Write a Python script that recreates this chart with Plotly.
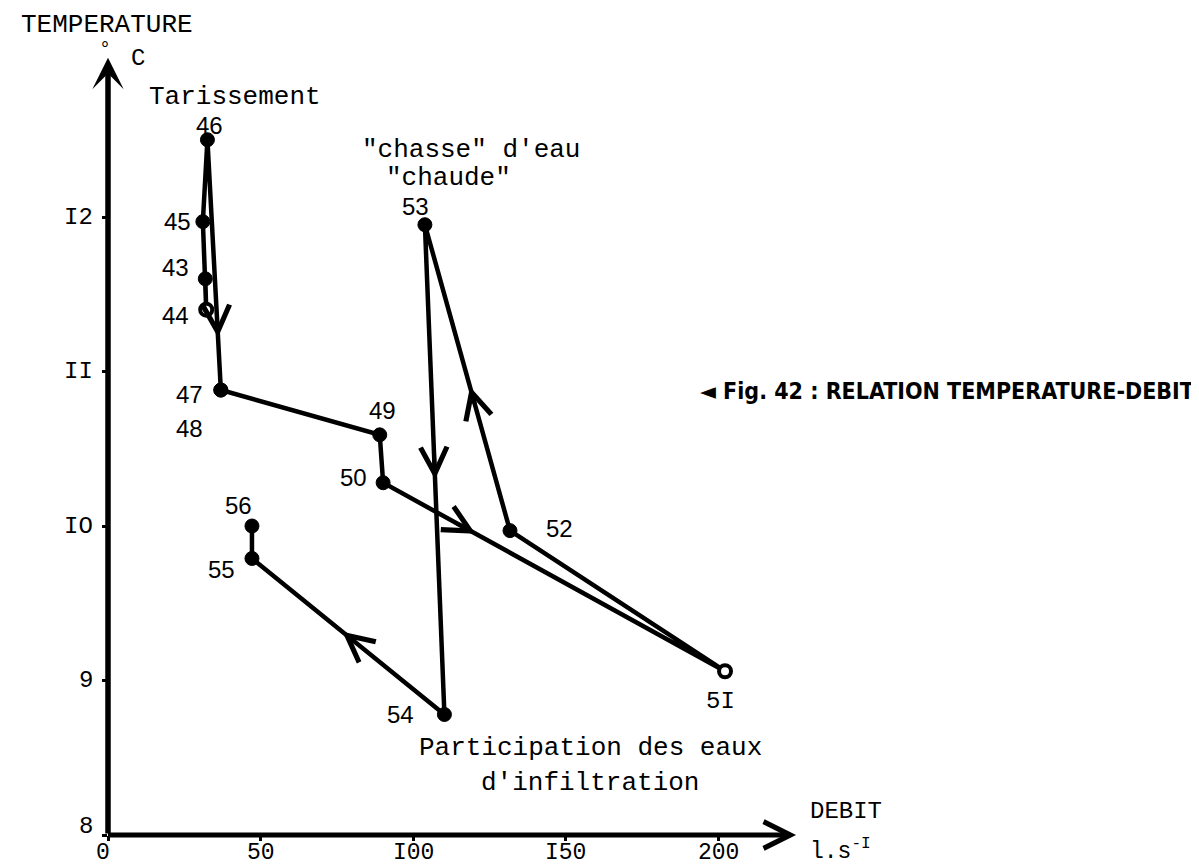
import plotly.graph_objects as go

# ---------------- data ----------------
labels = ["43", "44", "45", "46", "47", "48", "49", "50", "5I", "52", "53", "54", "55", "56"]
debit = [31.9, 32.2, 31.1, 32.6, 37.0, 37.0, 89.1, 90.2, 202.3, 131.8, 103.9, 110.3, 47.2, 47.2]
temperature = [11.60, 11.40, 11.97, 12.50, 10.88, 10.88, 10.59, 10.28, 9.06, 9.97, 11.95, 8.78, 9.79, 10.00]
open_points = ["44", "5I"]

y_tick_vals = [8, 9, 10, 11, 12]
y_tick_text = ["8", "9", "IO", "II", "I2"]
x_tick_vals = [0, 50, 100, 150, 200]
x_tick_text = ["0", "50", "I00", "I50", "200"]

# direction arrows: (from label, to label, fraction along segment)
arrow_segments = [("46", "47", 0.79), ("47", "49", 0.53), ("50", "5I", 0.27),
                  ("52", "53", 0.47), ("53", "54", 0.52), ("54", "55", 0.53)]

# ---------------- layout geometry ----------------
W, H = 1199, 864
ML, MR, MT, MB = 100, 0, 0, 37
plot_w, plot_h = W - ML - MR, H - MT - MB
px_per_q = 3.05
px_per_t = 154.5
x_max = plot_w / px_per_q
y_max = 8 + plot_h / px_per_t
axis_y_tip = 13.03
axis_x_tip = 225.6


def px(x):
    return (x - ML) / plot_w


def py(y):
    return (H - MB - y) / plot_h


idx = {l: i for i, l in enumerate(labels)}

MONO = "Liberation Mono, Courier New, monospace"
SANS = "Liberation Sans, Arial, sans-serif"
NARROW = "Liberation Sans Narrow, Arial Narrow, DejaVu Sans Condensed, sans-serif"

fig = go.Figure()

is_open = [l in open_points for l in labels]
fig.add_trace(go.Scatter(
    x=debit, y=temperature, mode="lines+markers",
    line=dict(color="black", width=4.5),
    marker=dict(
        size=[12 if o else 14 for o in is_open],
        color=["white" if o else "black" for o in is_open],
        opacity=1,
        line=dict(color="black", width=[4 if o else 1 for o in is_open]),
    ),
    hoverinfo="skip", showlegend=False, cliponaxis=False,
))

annotations = []

# axes drawn as arrows
annotations.append(dict(x=0, y=axis_y_tip, ax=0, ay=8, xref="x", yref="y", axref="x", ayref="y",
                        text="", showarrow=True, arrowhead=3, arrowwidth=5.5, arrowsize=0.95,
                        arrowcolor="black"))
annotations.append(dict(x=axis_x_tip, y=8, ax=-0.5, ay=8, xref="x", yref="y", axref="x", ayref="y",
                        text="", showarrow=True, arrowhead=5, arrowwidth=5, arrowsize=1.05,
                        arrowcolor="black"))

# direction chevrons along the path
for a, b, f in arrow_segments:
    i, j = idx[a], idx[b]
    x0, y0 = debit[i], temperature[i]
    x1, y1 = debit[j], temperature[j]
    tx, ty = x0 + f * (x1 - x0), y0 + f * (y1 - y0)
    bx, by = x0 + (f - 0.06) * (x1 - x0), y0 + (f - 0.06) * (y1 - y0)
    annotations.append(dict(x=tx, y=ty, ax=bx, ay=by, xref="x", yref="y", axref="x", ayref="y",
                            text="", showarrow=True, arrowhead=5, arrowwidth=4, arrowsize=1.3,
                            arrowcolor="black"))

# point labels (offsets in pixels: dx right, dy up)
label_offsets = {"43": (-30, 11), "44": (-31, -6), "45": (-25, 0), "46": (2, 14),
                 "47": (-31, -4), "48": (-31, -38), "49": (3, 24), "50": (-30, 5),
                 "5I": (-5, -30), "52": (50, 2), "53": (-9, 18), "54": (-44, 0),
                 "55": (-30, -11), "56": (-13, 21)}
for l, q, t in zip(labels, debit, temperature):
    dx, dy = label_offsets[l]
    annotations.append(dict(x=q, y=t, xref="x", yref="y", text=l, showarrow=False,
                            xshift=dx, yshift=dy, xanchor="center", yanchor="middle",
                            font=dict(family=MONO if "I" in l else SANS, size=24, color="black")))

# tick labels
y_label_shift = {8: 9}
for v, s in zip(y_tick_vals, y_tick_text):
    annotations.append(dict(x=px(87), y=v, xref="paper", yref="y", text=s, showarrow=False,
                            xanchor="right", yanchor="middle", yshift=y_label_shift.get(v, 0),
                            font=dict(family=MONO, size=24, color="black")))
for v, s in zip(x_tick_vals, x_tick_text):
    annotations.append(dict(x=v, y=py(845), xref="x", yref="paper", text=s, showarrow=False,
                            xanchor="center", yanchor="middle",
                            xshift=-5 if v == 0 else 0,
                            font=dict(family=MONO, size=23, color="black")))


# free texts
def txt(s, x, y, font, size, anchor="left", bold=False):
    annotations.append(dict(x=px(x), y=py(y), xref="paper", yref="paper", text=s,
                            showarrow=False, xanchor=anchor, yanchor="middle",
                            font=dict(family=font, size=size, color="black",
                                      weight="bold" if bold else "normal")))


txt("TEMPERATURE", 11, 17, MONO, 26)
txt("°", 97, 41, SANS, 20, anchor="center")
txt("C", 121, 50, MONO, 24)
txt("Tarissement", 139, 89, MONO, 26)
txt("\"chasse\" d'eau", 352, 142, MONO, 26)
txt("\"chaude\"", 376, 170, MONO, 26)
txt("Participation des eaux", 409, 740, MONO, 26)
txt("d'infiltration", 471, 775, MONO, 26)
txt("DEBIT", 800, 803, MONO, 24)
txt("l.s<sup>-I</sup>", 800, 842, MONO, 23)
txt("◄ Fig. 42 : RELATION TEMPERATURE-DEBIT", 1188, 383, NARROW, 23, anchor="right", bold=True)

fig.update_layout(
    width=W, height=H,
    margin=dict(l=ML, r=MR, t=MT, b=MB, pad=0),
    paper_bgcolor="white", plot_bgcolor="white",
    annotations=annotations,
    xaxis=dict(range=[0, x_max], showgrid=False, zeroline=False, showline=False,
               tickmode="array", tickvals=x_tick_vals, showticklabels=False,
               ticks="outside", ticklen=5, tickwidth=3, tickcolor="black"),
    yaxis=dict(range=[8, y_max], showgrid=False, zeroline=False, showline=False,
               tickmode="array", tickvals=y_tick_vals, showticklabels=False,
               ticks="outside", ticklen=5, tickwidth=3, tickcolor="black"),
)

fig.write_html("out.html")
